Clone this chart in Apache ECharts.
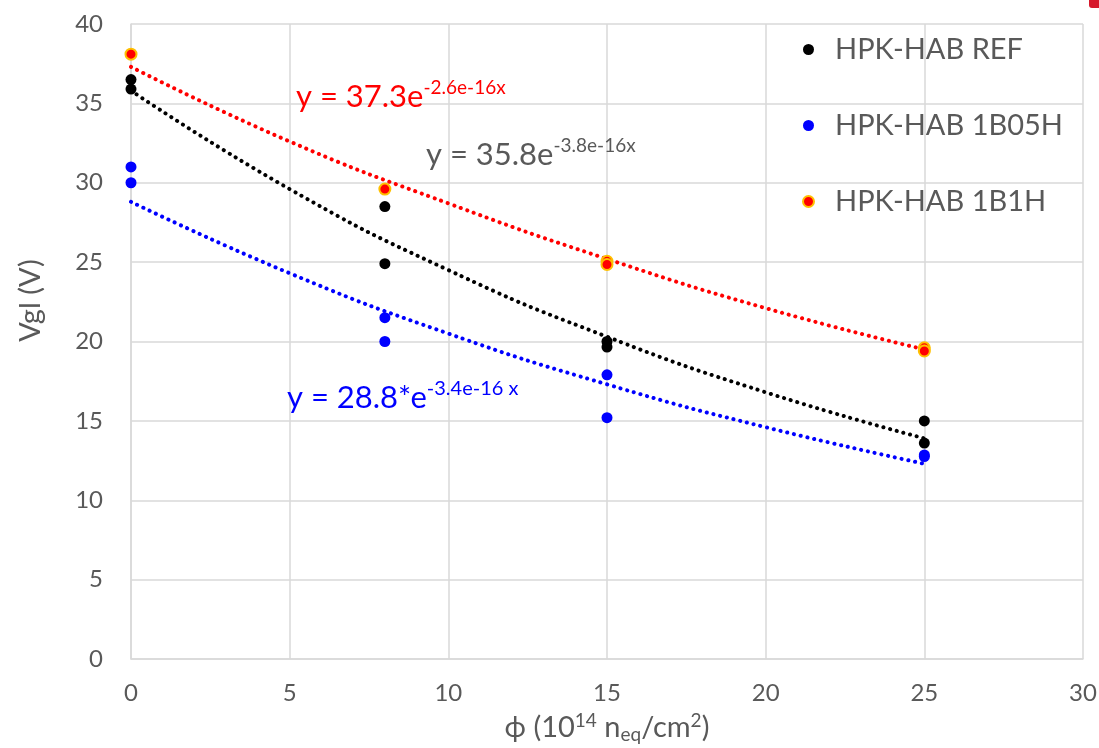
<!DOCTYPE html>
<html>
<head>
<meta charset="utf-8">
<script src="https://cdn.jsdelivr.net/npm/echarts@6/dist/echarts.min.js"></script>
<style>
  html, body { margin: 0; padding: 0; background: #fff; }
  #chart { width: 1099px; height: 748px; }
</style>
</head>
<body>
<div id="chart"></div>
<script>
// measured points, x in 1e14 neq/cm2
var refPts = [[0, 36.5], [0, 35.9], [8, 28.5], [8, 24.9], [15, 20.0], [15, 19.65], [25, 15.0], [25, 13.6]];
var b05Pts = [[0, 31.0], [0, 30.0], [8, 21.5], [8, 20.0], [15, 17.9], [15, 15.2], [25, 12.85], [25, 12.75]];
var b1Pts = [[0, 38.1], [8, 29.6], [15, 25.05], [15, 24.85], [25, 19.6], [25, 19.4]];

// trend lines
var trendX = [0, 5, 10, 15, 20, 25];
var refTrend = [35.8, 29.6, 24.5, 20.3, 16.8, 13.9];
var b05Trend = [28.8, 24.3, 20.5, 17.3, 14.6, 12.3];
var b1Trend = [37.3, 32.6, 28.7, 25.2, 22.1, 19.5];

var names = ['HPK-HAB REF', 'HPK-HAB 1B05H', 'HPK-HAB 1B1H'];
var font = 'Lato, "Noto Sans", sans-serif';
var gray = '#595959';

function pairs(ys) {
  return trendX.map(function (x, i) { return [x, ys[i]]; });
}

var chart = echarts.init(document.getElementById('chart'));

function trend(data, color) {
  return {
    type: 'line',
    data: pairs(data),
    smooth: true,
    showSymbol: false,
    silent: true,
    lineStyle: { color: color, width: 4, type: [0.1, 6.8], cap: 'round' },
    z: 2
  };
}

function eq(left, top, main, sup, color, supSize) {
  return {
    type: 'text', left: left, top: top, z: 10,
    style: {
      text: '{b|' + main + '}{s|' + sup + '}',
      fill: color,
      rich: {
        b: { fontSize: 31, fill: color, fontFamily: font },
        s: { fontSize: supSize, fill: color, fontFamily: font, padding: [0, 0, 18, 0] }
      }
    }
  };
}

chart.setOption({
  animation: false,
  textStyle: { fontFamily: font },
  grid: { left: 131, right: 16, top: 24, bottom: 89, outerBoundsMode: 'none' },
  legend: {
    data: names,
    orient: 'vertical',
    left: 797,
    top: 30,
    itemGap: 47,
    itemWidth: 11,
    itemHeight: 11,
    icon: 'circle',
    textStyle: { fontSize: 29, color: gray, fontFamily: font, padding: [0, 0, 0, 16] }
  },
  xAxis: {
    type: 'value',
    min: 0, max: 30, interval: 5,
    name: 'ϕ (10{sup|14} n{sub|eq}/cm{sup|2})',
    nameLocation: 'middle',
    nameGap: 52,
    nameTextStyle: {
      fontSize: 29, color: gray, fontFamily: font,
      rich: {
        sup: { fontSize: 19, color: gray, fontFamily: font, padding: [0, 0, 14, 0] },
        sub: { fontSize: 19, color: gray, fontFamily: font, padding: [14, 0, 0, 0] }
      }
    },
    axisLine: { lineStyle: { color: '#d9d9d9', width: 1.5 } },
    axisTick: { show: false },
    axisLabel: { fontSize: 24, color: gray, margin: 22 },
    splitLine: { lineStyle: { color: '#d9d9d9', width: 1.5 } }
  },
  yAxis: {
    type: 'value',
    min: 0, max: 40, interval: 5,
    name: 'Vgl (V)',
    nameLocation: 'middle',
    nameGap: 86,
    nameRotate: 90,
    nameTextStyle: { fontSize: 29, color: gray, fontFamily: font, padding: [0, 0, 0, 82] },
    axisLine: { show: true, lineStyle: { color: '#d9d9d9', width: 1.5 } },
    axisTick: { show: false },
    axisLabel: { fontSize: 24, color: gray, margin: 28 },
    splitLine: { lineStyle: { color: '#d9d9d9', width: 1.5 } }
  },
  series: [
    trend(refTrend, '#000000'),
    trend(b05Trend, '#0000ff'),
    trend(b1Trend, '#ff0000'),
    {
      name: names[0], type: 'scatter', data: refPts, symbolSize: 11,
      itemStyle: { color: '#000000', opacity: 1 }, z: 3
    },
    {
      name: names[1], type: 'scatter', data: b05Pts, symbolSize: 11,
      itemStyle: { color: '#0000ff', opacity: 1 }, z: 3
    },
    {
      name: names[2], type: 'scatter', data: b1Pts, symbolSize: 11,
      itemStyle: { color: '#ff0000', borderColor: '#ffc000', borderWidth: 2, opacity: 1 }, z: 3
    }
  ],
  graphic: [
    eq(296, 78, 'y = 37.3e', '-2.6e-16x', '#ff0000', 19),
    eq(426, 136, 'y = 35.8e', '-3.8e-16x', gray, 19),
    eq(287, 379, 'y = 28.8*e', '-3.4e-16 x', '#0000ff', 20),
    {
      type: 'rect', right: 0, top: 0, z: 10,
      shape: { width: 10, height: 8, r: [0, 0, 0, 3] },
      style: { fill: '#d6182b' }
    }
  ]
});
</script>
</body>
</html>
